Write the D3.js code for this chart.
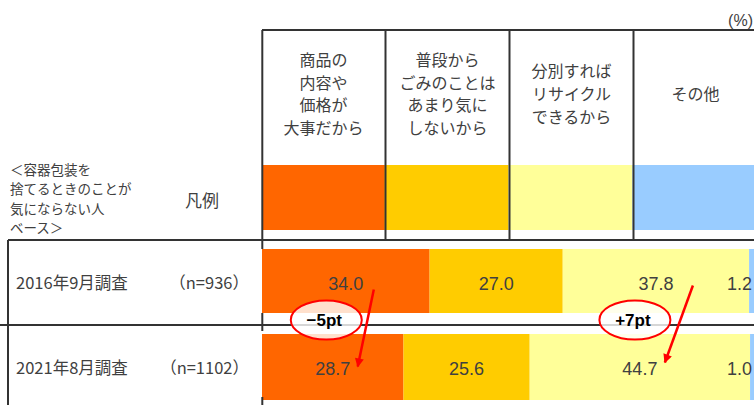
<!DOCTYPE html>
<html><head><meta charset="utf-8">
<script src="https://cdn.jsdelivr.net/npm/d3@7"></script>
<style>
html,body{margin:0;padding:0;background:#fff;overflow:hidden}
svg{display:block}
</style></head>
<body>
<svg id="chart" width="754" height="405"></svg>
<script>
// ---- data ----
const categories = ["商品の\n内容や\n価格が\n大事だから", "普段から\nごみのことは\nあまり気に\nしないから", "分別すれば\nリサイクル\nできるから", "その他"];
const surveys = ["2016年9月調査", "2021年8月調査"];
const sampleSizes = ["（n=936）", "（n=1102）"];
const values2016 = [34.0, 27.0, 37.8, 1.2];
const values2021 = [28.7, 25.6, 44.7, 1.0];
const colors = ["#FF6600", "#FFCC00", "#FFFF99", "#99CCFF"];
const baseLabel = ["＜容器包装を", "捨てるときのことが", "気にならない人", "ベース＞"];
const legendTitle = "凡例";
const unitLabel = "(%)";
const diffLabels = ["−5pt", "+7pt"];
const diffCategory = [0, 2];

// ---- layout ----
const svg = d3.select("#chart");
const JP = "'Noto Sans CJK JP','Noto Sans',sans-serif";
const NUM = "'Liberation Sans',Arial,sans-serif";
const lineColor = "#333333";
const textColor = "#404040";

const x = d3.scaleLinear().domain([0, 100]).range([262, 755]);
const col = d3.scaleBand().domain(categories).range([262, 758]);
const row = d3.scaleBand().domain(surveys).range([240, 410]);
const allValues = [values2016, values2021];

// arrow marker
svg.append("defs").append("marker")
  .attr("id", "ah").attr("viewBox", "0 0 10 10").attr("refX", 9).attr("refY", 5)
  .attr("markerWidth", 11).attr("markerHeight", 9).attr("markerUnits", "userSpaceOnUse")
  .attr("orient", "auto")
  .append("path").attr("d", "M0,0 L10,5 L0,10 Z").attr("fill", "#FF0000");

// header text
categories.forEach(c => {
  const lines = c.split("\n");
  const cx = col(c) + col.bandwidth() / 2 - 0.5;
  const lh = 22.7;
  const midY = 94;
  const t = svg.append("text").attr("font-family", JP).attr("font-size", 16)
    .attr("fill", textColor).attr("text-anchor", "middle");
  lines.forEach((l, i) => {
    t.append("tspan").attr("x", cx)
      .attr("y", midY + (i - (lines.length - 1) / 2) * lh + 6)
      .text(l);
  });
});

// legend swatches
categories.forEach((c, i) => {
  svg.append("rect").attr("x", col(c) - (i ? 1.5 : 0)).attr("y", 165)
    .attr("width", col.bandwidth()).attr("height", 65).attr("fill", colors[i]);
});

// bars
allValues.forEach((vals, r) => {
  let cum = 0;
  const y0 = row(surveys[r]) + 9;
  const h = 64 + r * 2;
  vals.forEach((v, i) => {
    const s = cum, e = cum + v;
    svg.append("rect").attr("x", x(s)).attr("y", y0).attr("width", x(e) - x(s))
      .attr("height", h).attr("fill", colors[i]);
    cum = e;
  });
});

// frame lines
const L = (x1, y1, x2, y2) => svg.append("line").attr("x1", x1).attr("y1", y1)
  .attr("x2", x2).attr("y2", y2).attr("stroke", lineColor).attr("stroke-width", 2);
L(262, 30, 754, 30);
categories.forEach((c, i) => { if (i) L(col(c) - 0.5, 30, col(c) - 0.5, 240); });
L(262.3, 30, 262.3, 249);
L(8, 240, 754, 240);
L(0, 325, 754, 325);
L(8, 240, 8, 405);
L(262.3, 313, 262.3, 331);
L(262.3, 397, 262.3, 405);

// value labels
allValues.forEach((vals, r) => {
  let cum = 0;
  const cy = row(surveys[r]) + row.bandwidth() / 2 + 7;
  vals.forEach((v, i) => {
    const s = cum, e = cum + v;
    const last = i === vals.length - 1;
    const lx = last ? x(100) - 3 : (x(s) + x(e)) / 2;
    svg.append("text").attr("x", lx).attr("y", cy).attr("text-anchor", last ? "end" : "middle")
      .attr("font-family", NUM).attr("font-size", 18).attr("fill", textColor)
      .text(v.toFixed(1));
    cum = e;
  });
});

// row labels
surveys.forEach((s, r) => {
  const cy = row(s) + row.bandwidth() / 2 + 6;
  svg.append("text").attr("x", 16).attr("y", cy).attr("font-family", JP)
    .attr("font-size", 16.5).attr("fill", textColor).text(s);
  svg.append("text").attr("x", 249).attr("y", cy).attr("text-anchor", "end")
    .attr("font-family", JP).attr("font-size", 16.5).attr("fill", textColor).text(sampleSizes[r]);
});

// left base label
const bt = svg.append("text").attr("font-family", JP).attr("font-size", 13.5).attr("fill", textColor);
baseLabel.forEach((l, i) => bt.append("tspan").attr("x", 10).attr("y", 175 + i * 19.3).text(l));
svg.append("text").attr("x", 185).attr("y", 207).attr("font-family", JP).attr("font-size", 17)
  .attr("fill", textColor).text(legendTitle);

// unit
svg.append("text").attr("x", 753).attr("y", 26).attr("text-anchor", "end")
  .attr("font-family", NUM).attr("font-size", 16).attr("fill", textColor).text(unitLabel);

// difference annotations
const arrowDx = [[28, 25], [37, 25]];
diffCategory.forEach((ci, k) => {
  const centers = allValues.map(vals => {
    const s = d3.sum(vals.slice(0, ci));
    return (x(s) + x(s + vals[ci])) / 2;
  });
  const cy1 = row(surveys[0]) + row.bandwidth() / 2;
  const cy2 = row(surveys[1]) + row.bandwidth() / 2;
  const ex = (centers[0] + centers[1]) / 2 - 13;
  const ey = 320;
  svg.append("ellipse").attr("cx", ex).attr("cy", ey).attr("rx", 35.5).attr("ry", 19.5)
    .attr("fill", "rgba(255,255,255,0.8)").attr("stroke", "#FF0000").attr("stroke-width", 2);
  svg.append("text").attr("x", ex - 2).attr("y", ey + 6).attr("text-anchor", "middle")
    .attr("font-family", NUM).attr("font-weight", "bold").attr("font-size", 17)
    .attr("fill", "#000").text(diffLabels[k]);
  svg.append("line")
    .attr("x1", centers[0] + arrowDx[k][0]).attr("y1", cy1 + 7 - k * 4)
    .attr("x2", centers[1] + arrowDx[k][1]).attr("y2", cy2 - 1 - k * 4)
    .attr("stroke", "#FF0000").attr("stroke-width", 2.5).attr("marker-end", "url(#ah)");
});
</script>
</body></html>
